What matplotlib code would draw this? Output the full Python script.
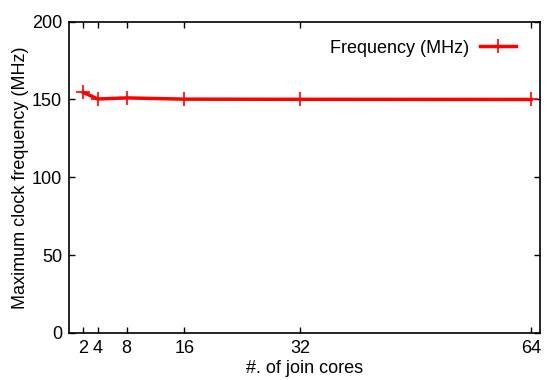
import matplotlib
matplotlib.use("Agg")
import matplotlib.pyplot as plt

plt.rcParams['font.family'] = ['Liberation Sans', 'DejaVu Sans']

cores = [2, 4, 8, 16, 32, 64]
freq = [154.5, 150.3, 151.0, 150.2, 150.1, 150.0]
y_ticks = [0, 50, 100, 150, 200]

fig = plt.figure(figsize=(5.47, 3.80), dpi=100)
ax = fig.add_axes([0.126, 0.124, 0.861, 0.819])

ax.plot(cores, freq, color='#ff0000', linewidth=2.5, marker='+',
        markersize=10, markeredgewidth=1.2, label='Frequency (MHz)')

ax.set_xlim(0, 65.2)
ax.set_ylim(0, 200)
ax.set_xticks(cores)
ax.set_yticks(y_ticks)
ax.tick_params(direction='in', top=True, right=True, length=4, width=1,
               labelsize=13, pad=5)
for s in ax.spines.values():
    s.set_linewidth(1.2)

ax.set_xlabel('#. of join cores', fontsize=13, labelpad=2)
ax.set_ylabel('Maximum clock frequency (MHz)', fontsize=13, labelpad=2)

ax.legend(loc='upper right', bbox_to_anchor=(0.987, 1.0), frameon=False,
          markerfirst=False, fontsize=13, handlelength=2.0,
          borderaxespad=0.6, handletextpad=0.6)

fig.savefig('out.png', dpi=100)
